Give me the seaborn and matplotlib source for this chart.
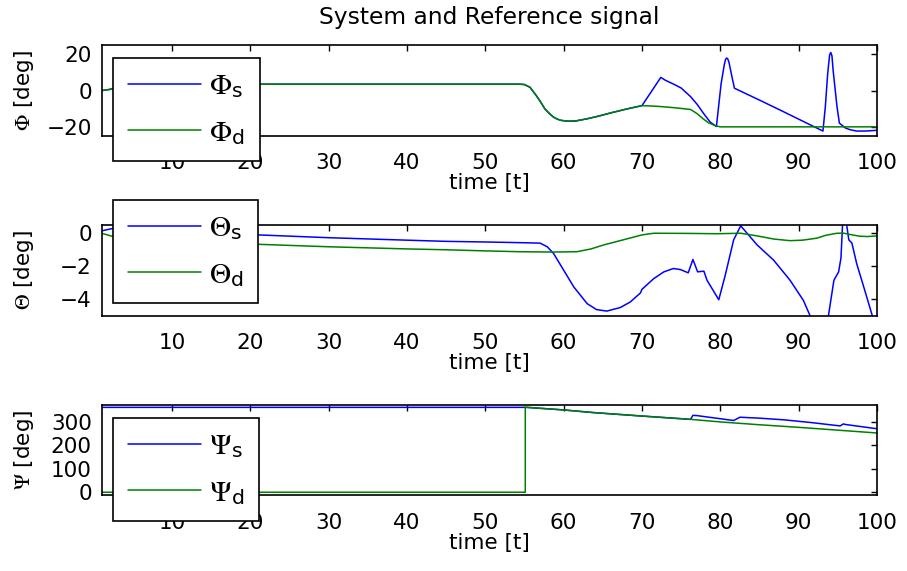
import matplotlib
matplotlib.use("Agg")
import matplotlib.pyplot as plt
import pandas as pd
import seaborn as sns

# ---- roll angle Phi [deg] ----
phi_s_t = [1, 2, 2.7, 5, 8, 20, 30, 40, 50, 54.4, 55, 55.7, 56.5, 57.1, 57.6, 58.2, 58.7, 59.2,
           59.7, 60.6, 61.5, 63, 64.5, 65.9, 68, 70, 71.2, 72.4, 73, 74, 75, 76.2, 77, 77.9,
           78.7, 79.5, 80.1, 80.5, 80.65, 80.8, 80.95, 81.1, 81.5, 81.8, 85, 88, 91, 93.1,
           93.4, 93.7, 93.95, 94.1, 94.25, 94.4, 94.9, 95.2, 96, 96.6, 97.4, 98.5, 100]
phi_s = [0, 0.6, 1.5, 3.2, 3.5, 3.5, 3.5, 3.5, 3.5, 3.5, 3.3, 1.8, -2.7, -6.5, -10, -12.6, -14.5, -15.6,
         -16.3, -16.7, -16.6, -15.4, -13.9, -12.3, -10.1, -8.2, -0.5, 7.2, 5.6, 3.6, 1.4, -3.3, -7.3, -12.7,
         -17.2, -19.6, 3.8, 14, 16.8, 17.8, 17.3, 15.5, 7.2, 1.3, -5.2, -11.4, -17.7, -22.1,
         -9, 9, 19.5, 20.8, 19.0, 11, -9, -17.8, -20.5, -21.4, -22.1, -22.1, -21.7]
phi_d_t = [1, 2, 2.7, 5, 8, 20, 30, 40, 50, 54.4, 55, 55.7, 56.5, 57.1, 57.6, 58.2, 58.7, 59.2,
           59.7, 60.6, 61.5, 63, 64.5, 65.9, 68, 70, 72, 74, 76.2, 77, 77.8, 78.5, 79.4, 80,
           85, 90, 100]
phi_d = [0, 0.6, 1.5, 3.2, 3.5, 3.5, 3.5, 3.5, 3.5, 3.5, 3.3, 1.8, -2.7, -6.5, -10, -12.6, -14.5, -15.6,
         -16.3, -16.7, -16.6, -15.4, -13.9, -12.3, -10.1, -8.2, -8.6, -9.3, -10.3, -12.5, -15.4, -17.6, -19.2, -19.8,
         -19.8, -19.8, -19.8]

# ---- pitch angle Theta [deg] ----
theta_s_t = [1, 2.5, 8, 14, 21, 30, 40, 44.8, 50, 54.4, 57, 57.9, 58.7, 60, 61.3, 63, 64.2, 65.5,
             67.2, 68.5, 69.8, 70, 71.5, 72.8, 74, 74.9, 75.9, 76.5, 77.1, 77.9, 78.3, 79.8, 80.6,
             81.7, 82.6, 84.7, 86.8, 88.9, 90.6, 91.5, 92.3, 93.3, 93.8, 94.5, 95.1, 95.4, 95.6,
             95.85, 96.1, 96.4, 96.8, 97.4, 98.4, 99.4, 100]
theta_s = [0.14, 0.3, 0.15, 0.02, -0.1, -0.27, -0.42, -0.49, -0.53, -0.57, -0.6, -0.82, -1.22, -2.24, -3.26, -4.27, -4.63, -4.72,
           -4.51, -4.17, -3.62, -3.4, -2.75, -2.34, -2.14, -2.2, -2.4, -1.59, -2.34, -2.3, -2.85, -4.03, -2.6,
           -0.4, 0.45, -0.71, -1.63, -2.85, -4.07, -5.05, -6, -6, -5.0, -2.85, -2.34, -1.5, 0.5,
           1.6, 0.6, -0.4, -0.6, -1.83, -3.4, -5.0, -5.9]
theta_d_t = [1, 2.5, 6, 10, 15, 21, 30, 40, 44.8, 50, 54.4, 58.7, 61.7, 63.5, 65.1, 67.2, 70, 71.5,
             76, 79.6, 82.6, 84.7, 86.8, 88.9, 90.5, 92.3, 93.5, 94.9, 95.8, 96.6, 97.8, 98.8, 100]
theta_d = [0, -0.2, -0.35, -0.45, -0.57, -0.67, -0.82, -0.95, -1.0, -1.07, -1.12, -1.14, -1.12, -0.95, -0.71, -0.45, -0.1, 0.0,
           -0.01, -0.03, 0.0, -0.16, -0.35, -0.45, -0.42, -0.3, -0.12, 0.0, 0.0, -0.08, -0.18, -0.2, -0.16]

# ---- yaw angle Psi [deg] ----
psi_s_t = [1, 55.1, 60, 63.7, 70, 76.2, 76.5, 77, 81.7, 82.5, 85, 88.1, 91.7, 95.3, 95.7, 96, 100]
psi_s = [361, 361, 350, 339, 324, 310, 327, 326, 305, 319, 315, 308, 296, 282, 290.6, 288, 270]
psi_d_t = [1, 55.1, 55.1, 60, 63.7, 70, 76.2, 80, 85, 90, 95, 100]
psi_d = [0, 0, 362, 350, 339, 324, 310, 299, 287, 276, 264, 252]

x_ticks = [10, 20, 30, 40, 50, 60, 70, 80, 90, 100]

panels = [
    dict(ts=phi_s_t, s=phi_s, td=phi_d_t, d=phi_d, sym=r"\Phi",
         ylim=(-24.8, 24.9), yticks=[-20, 0, 20]),
    dict(ts=theta_s_t, s=theta_s, td=theta_d_t, d=theta_d, sym=r"\Theta",
         ylim=(-5.0, 0.5), yticks=[-4, -2, 0]),
    dict(ts=psi_s_t, s=psi_s, td=psi_d_t, d=psi_d, sym=r"\Psi",
         ylim=(-13, 371), yticks=[0, 100, 200, 300]),
]

sns.set_theme(style="white")
plt.rcParams.update({
    "font.family": ["DejaVu Sans"],
    "mathtext.fontset": "stix",
    "xtick.direction": "in",
    "ytick.direction": "in",
    "xtick.top": True,
    "ytick.right": True,
    "axes.edgecolor": "black",
    "axes.linewidth": 1.2,
    "text.color": "black",
    "axes.labelcolor": "black",
    "xtick.color": "black",
    "ytick.color": "black",
})

FS = 15.5
W, H = 907, 571
fig = plt.figure(figsize=(W / 100, H / 100), dpi=100)

ax_left, ax_right = 101.5, 877
tops = [45, 225, 405]
bottoms = [136, 315.7, 495.3]
legend_tops = [58, 200, 418]

for i, p in enumerate(panels):
    ax = fig.add_axes([ax_left / W, 1 - bottoms[i] / H,
                       (ax_right - ax_left) / W, (bottoms[i] - tops[i]) / H])
    sns.lineplot(x=p["ts"], y=p["s"], ax=ax, color="#0000ff", lw=1.1,
                 estimator=None, sort=False,
                 label=rf"${p['sym']}_{{\mathdefault{{s}}}}$")
    sns.lineplot(x=p["td"], y=p["d"], ax=ax, color="#008000", lw=1.1,
                 estimator=None, sort=False,
                 label=rf"${p['sym']}_{{\mathdefault{{d}}}}$")
    ax.set_xlim(1, 100)
    ax.set_ylim(*p["ylim"])
    ax.set_xticks(x_ticks)
    ax.set_yticks(p["yticks"])
    ax.tick_params(axis="both", labelsize=FS, length=4.5, width=1.0)
    ax.tick_params(axis="x", pad=12.5)
    ax.tick_params(axis="y", pad=7)
    ax.set_xlabel("time [t]", fontsize=FS, labelpad=0)
    ax.set_ylabel(rf"${p['sym']}$ [deg]", fontsize=FS)
    ax.yaxis.set_label_coords(-0.085, 0.5)
    for sp in ax.spines.values():
        sp.set_visible(True)
        sp.set_color("black")
        sp.set_linewidth(1.2)
    leg = ax.legend(loc="upper left", bbox_to_anchor=(113 / W, 1 - legend_tops[i] / H),
                    bbox_transform=fig.transFigure, fontsize=21, frameon=True,
                    fancybox=False, edgecolor="black", framealpha=1,
                    handlelength=2.5, handletextpad=0.3, borderpad=0.5,
                    labelspacing=0.62, borderaxespad=0)
    leg.get_frame().set_linewidth(1.2)
    if i == 0:
        ax.set_title("System and Reference signal", fontsize=16.8, pad=15)

fig.savefig("out.png", dpi=100)
